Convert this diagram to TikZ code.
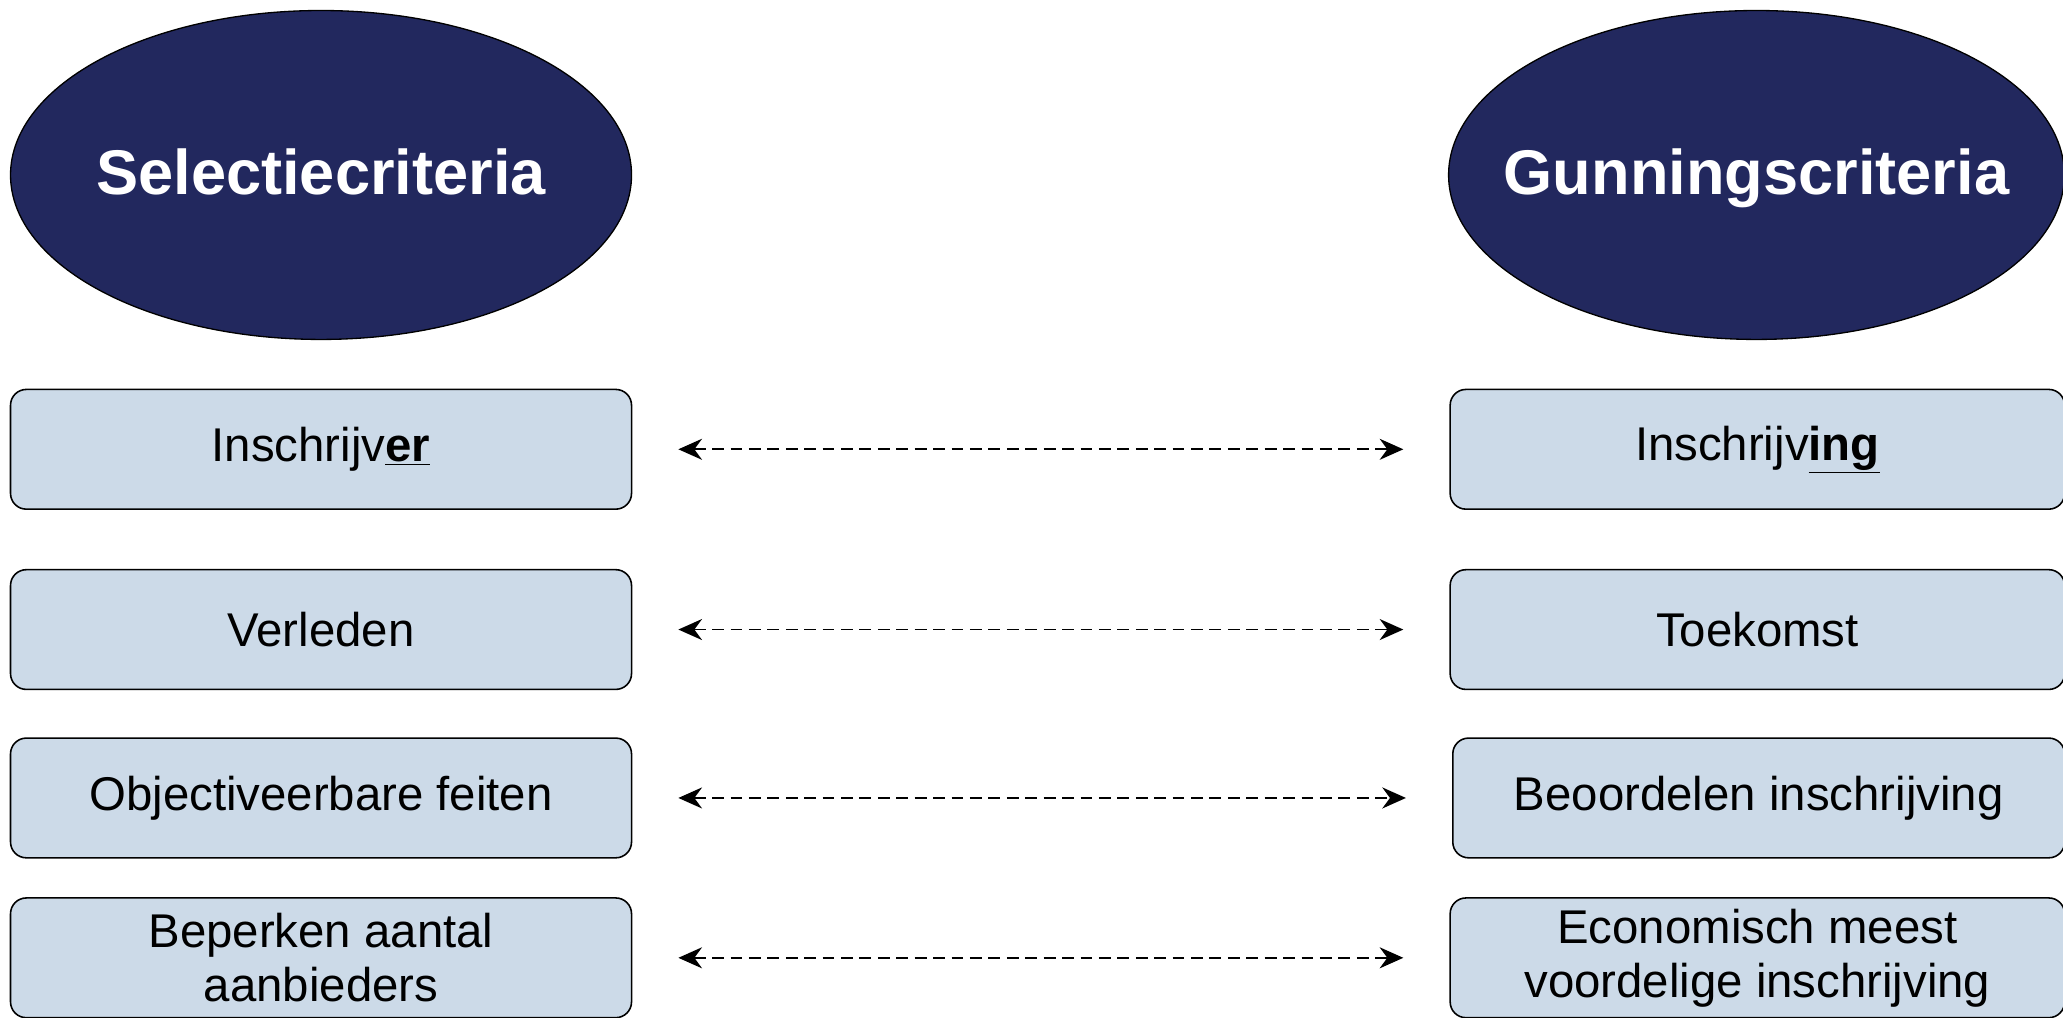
\documentclass[tikz,border=0pt]{standalone}
\usepackage{fontspec}
\setmainfont{Liberation Sans}
\usetikzlibrary{positioning,shapes.geometric,arrows.meta}
\definecolor{navy}{RGB}{34,40,94}
\definecolor{lichtblauw}{RGB}{204,218,232}
\tikzset{
	kop/.style={ellipse, draw=black, line width=1pt, fill=navy, minimum width=472pt, minimum height=250pt, inner sep=0pt},
	koptekst/.style={text=white, anchor=base, yshift=-15pt, inner sep=0pt, font=\fontsize{48}{54}\selectfont\bfseries},
	vak/.style={rectangle, rounded corners=12pt, draw=black, line width=1.2pt, fill=lichtblauw, minimum width=472pt, minimum height=91pt, inner sep=0pt, align=center, font=\fontsize{36}{41}\selectfont},
	pijl/.style={{Stealth[length=18pt,width=16pt]}-{Stealth[length=18pt,width=16pt]}, dash pattern=on 9pt off 5pt, line width=1.4pt}
}
\begin{document}
\begin{tikzpicture}[x=1pt, y=1pt]
	\useasboundingbox (0,0) rectangle (1568,773);
	\node[kop] (sel) at (244,640) {};
	\node[koptekst] (seltekst) at (sel.center) {Selectiecriteria};
	\node[kop, minimum width=468pt] (gun) at (1335,640) {};
	\node[koptekst] (guntekst) at (gun.center) {Gunningscriteria};
	\node[vak] (l1) at (244,431.5) {Inschrijv\textbf{\underline{er}}};
	\node[vak] (l2) at (244,294.5) {Verleden};
	\node[vak] (l3) at (244,166.5) {Objectiveerbare feiten};
	\node[vak] (l4) at (244,45) {Beperken aantal\\aanbieders};
	\node[vak, minimum width=467pt, right=621pt of l1] (r1) {Inschrijv\textbf{\underline{ing}}};
	\node[vak, minimum width=467pt, right=621pt of l2] (r2) {Toekomst};
	\node[vak, minimum width=465pt, right=623pt of l3] (r3) {Beoordelen inschrijving};
	\node[vak, minimum width=467pt, right=621pt of l4] (r4) {Economisch meest\\voordelige inschrijving};
	\foreach \i in {1,...,4}
		\draw[pijl] ([xshift=35pt]l\i.east) -- ([xshift=-35pt]r\i.west);
\end{tikzpicture}
\end{document}
